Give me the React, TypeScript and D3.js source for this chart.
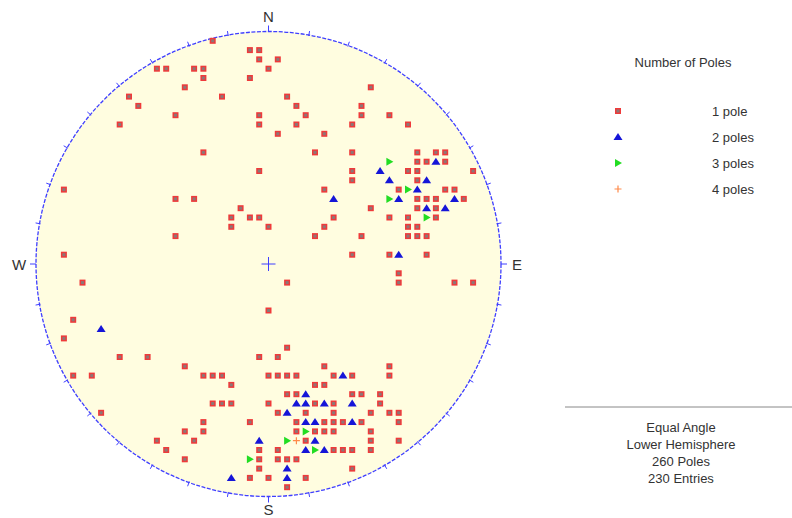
import React, { useRef, useEffect } from "react";
import * as d3 from "d3";

// pole positions on the plotting grid, [column, row], centre = [0, 0], rim = 25
const onePole: [number, number][] = [
  [-6, -24], [-2, -23], [-1, -23], [-1, -22], [1, -22], [0, -21], [-12, -21], [-11, -21],
  [-8, -21], [-7, -21], [-7, -20], [-2, -20], [-9, -19], [-15, -18], [-5, -18], [-14, -17],
  [-10, -16], [-1, -16], [-16, -15], [-1, -15], [1, -14], [-7, -12], [-1, -10], [-22, -8],
  [-10, -7], [-8, -7],
  [11, -19], [2, -18], [3, -17], [10, -17], [4, -16], [10, -16], [13, -16], [3, -15],
  [9, -15], [15, -15], [6, -14], [5, -12], [9, -12], [16, -12], [18, -12], [19, -12],
  [16, -11], [17, -11], [19, -11], [9, -10], [15, -10], [16, -10], [22, -10], [9, -9],
  [16, -9], [6, -8], [14, -8], [19, -8], [20, -8],
  [16, -7], [17, -7], [18, -7], [21, -7], [11, -6], [16, -6], [18, -6], [7, -5], [13, -5],
  [15, -5], [18, -5], [6, -4], [15, -4], [16, -4], [5, -3], [10, -3], [15, -3], [16, -3],
  [17, -3], [9, -1], [13, -1], [17, -1], [14, 1],
  [0, -4], [2, 2], [14, 2], [20, 2], [22, 2], [0, 5], [2, 9], [1, 10], [-1, 10],
  [-3, -6], [-4, -5], [-2, -5], [-1, -5], [-4, -4], [-10, -3], [-22, -1], [-20, 2],
  [-21, 6], [-22, 8], [-16, 10], [-13, 10],
  [-9, 11], [-21, 12], [-19, 12], [-18, 16], [-9, 18], [-12, 19], [-8, 19], [-11, 20],
  [-9, 21], [-7, 17], [-7, 18],
  [6, 11], [13, 11],
  [-7, 12], [-6, 12], [-5, 12], [0, 12], [1, 12], [2, 12], [3, 12], [7, 12], [9, 12], [13, 12],
  [-4, 13], [5, 13], [6, 13],
  [2, 14], [3, 14], [9, 14], [10, 14], [12, 14],
  [-6, 15], [-5, 15], [-4, 15], [0, 15], [5, 15], [7, 15], [12, 15],
  [1, 16], [4, 16], [7, 16], [11, 16], [13, 16], [14, 16],
  [-2, 17], [3, 17], [6, 17], [7, 17], [8, 17], [10, 17], [14, 17],
  [3, 18], [5, 18], [6, 18], [7, 18], [11, 18],
  [4, 19], [11, 19], [14, 19],
  [-1, 20], [1, 20], [7, 20], [8, 20], [9, 20], [11, 20],
  [-1, 21], [1, 21], [2, 21], [3, 21],
  [-1, 22], [9, 22],
  [-2, 23], [0, 23], [4, 23],
  [2, 24],
];

const twoPoles: [number, number][] = [
  [18, -11], [12, -10], [13, -9], [17, -9], [16, -8], [7, -7], [14, -7], [20, -7],
  [17, -6], [19, -6], [14, -1], [-18, 7], [8, 12], [4, 14], [3, 15], [4, 15], [6, 15],
  [9, 15], [2, 16], [4, 17], [5, 17], [9, 17], [-1, 19], [5, 19], [4, 20], [6, 20],
  [2, 22], [-4, 23], [2, 23],
];

const threePoles: [number, number][] = [
  [13, -11], [15, -8], [13, -7], [17, -5], [4, 18], [2, 19], [5, 20], [-2, 21],
];

const fourPoles: [number, number][] = [[3, 19]];

const legendLabels = ["1 pole", "2 poles", "3 poles", "4 poles"];
const infoLines = ["Equal Angle", "Lower Hemisphere", "260 Poles", "230 Entries"];
const directions = [
  { label: "N", az: 0, off: 15 },
  { label: "E", az: 90, off: 16 },
  { label: "S", az: 180, off: 13 },
  { label: "W", az: 270, off: 17 },
];

const W = 792;
const H = 518;
const cx = 268.5;
const cy = 264;
const R = 232.5;
const FONT = "'Liberation Sans', Arial, sans-serif";
const RIM = "#3f3fff";

type Sel = d3.Selection<SVGGElement, unknown, null, undefined>;

function square(g: Sel, x: number, y: number) {
  g.append("rect").attr("x", x - 3).attr("y", y - 3).attr("width", 6).attr("height", 6)
    .attr("fill", "#ef3a3a");
  g.append("rect").attr("x", x - 1.5).attr("y", y - 1.5).attr("width", 3).attr("height", 3)
    .attr("fill", "#8e7676");
}
function triUp(g: Sel, x: number, y: number) {
  g.append("path").attr("d", `M${x},${y - 4}L${x + 4.5},${y + 3}L${x - 4.5},${y + 3}Z`)
    .attr("fill", "#1515d8");
}
function triRight(g: Sel, x: number, y: number) {
  g.append("path").attr("d", `M${x - 3},${y - 4}L${x + 4},${y}L${x - 3},${y + 4}Z`)
    .attr("fill", "#22dd22");
}
function plus(g: Sel, x: number, y: number) {
  g.append("path").attr("d", `M${x - 3.5},${y}H${x + 3.5}M${x},${y - 3.5}V${y + 3.5}`)
    .attr("stroke", "#ff8a4a").attr("stroke-width", 1.2);
}

export default function App() {
  const ref = useRef<SVGSVGElement>(null);

  useEffect(() => {
    const svg = d3.select(ref.current);
    svg.selectAll("*").remove();

    const x = d3.scaleLinear().domain([-25, 25]).range([cx - R, cx + R]);
    const y = d3.scaleLinear().domain([-25, 25]).range([cy - R, cy + R]);

    const net = svg.append("g");
    net.append("circle").attr("cx", cx).attr("cy", cy).attr("r", R)
      .attr("fill", "#fffde0").attr("stroke", RIM).attr("stroke-width", 1.3)
      .attr("stroke-dasharray", "4 1.5");

    // 10 degree ticks round the rim
    const az = d3.range(10, 360, 10).filter(a => a % 90 !== 0);
    net.selectAll("line.tick").data(az).enter().append("line")
      .attr("class", "tick")
      .attr("x1", a => cx + (R - 1) * Math.sin((a * Math.PI) / 180))
      .attr("y1", a => cy - (R - 1) * Math.cos((a * Math.PI) / 180))
      .attr("x2", a => cx + (R + 4) * Math.sin((a * Math.PI) / 180))
      .attr("y2", a => cy - (R + 4) * Math.cos((a * Math.PI) / 180))
      .attr("stroke", RIM).attr("stroke-width", 1);

    // cardinal ticks and labels
    directions.forEach(d => {
      const s = Math.sin((d.az * Math.PI) / 180);
      const c = Math.cos((d.az * Math.PI) / 180);
      net.append("line")
        .attr("x1", cx + R * s).attr("y1", cy - R * c)
        .attr("x2", cx + (R + 6) * s).attr("y2", cy - (R + 6) * c)
        .attr("stroke", RIM).attr("stroke-width", 1);
      net.append("text")
        .attr("x", cx + (R + d.off) * s)
        .attr("y", cy - (R + d.off) * c)
        .attr("text-anchor", "middle").attr("dominant-baseline", "central")
        .attr("font-family", FONT).attr("font-size", 15).attr("fill", "#333")
        .text(d.label);
    });

    // centre cross
    net.append("path")
      .attr("d", `M${cx - 7},${cy}H${cx + 7}M${cx},${cy - 7}V${cy + 7}`)
      .attr("stroke", RIM).attr("stroke-width", 1);

    const marks = svg.append("g");
    onePole.forEach(([c, r]) => square(marks, x(c), y(r)));
    twoPoles.forEach(([c, r]) => triUp(marks, x(c), y(r)));
    threePoles.forEach(([c, r]) => triRight(marks, x(c), y(r)));
    fourPoles.forEach(([c, r]) => plus(marks, x(c), y(r)));

    // legend
    const legend = svg.append("g");
    legend.append("text").attr("x", 683).attr("y", 62)
      .attr("text-anchor", "middle").attr("dominant-baseline", "central")
      .attr("font-family", FONT).attr("font-size", 13).attr("fill", "#333")
      .text("Number of Poles");
    const drawers = [square, triUp, triRight, plus];
    legendLabels.forEach((label, i) => {
      const ly = 111 + i * 26;
      drawers[i](legend, 618, ly);
      legend.append("text").attr("x", 712).attr("y", ly)
        .attr("dominant-baseline", "central")
        .attr("font-family", FONT).attr("font-size", 13).attr("fill", "#333")
        .text(label);
    });

    // projection info
    svg.append("line").attr("x1", 565).attr("x2", W).attr("y1", 407).attr("y2", 407)
      .attr("stroke", "#888").attr("stroke-width", 1);
    svg.append("g").selectAll("text").data(infoLines).enter().append("text")
      .attr("x", 681).attr("y", (d, i) => 427 + i * 17)
      .attr("text-anchor", "middle").attr("dominant-baseline", "central")
      .attr("font-family", FONT).attr("font-size", 13).attr("fill", "#333")
      .text(d => d);
  }, []);

  return (
    <svg ref={ref} width={W} height={H}
      style={{ position: "absolute", left: 0, top: 0, background: "#fff" }} />
  );
}
